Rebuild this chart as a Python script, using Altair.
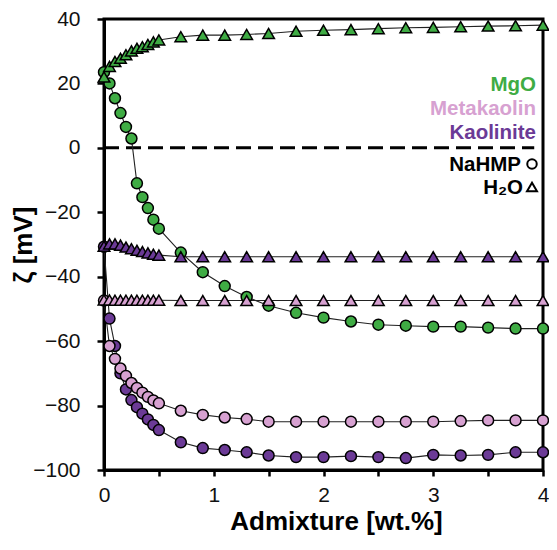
import altair as alt
import pandas as pd

# Admixture content [wt.%]
admixture = [0.0, 0.05, 0.1, 0.15, 0.2, 0.25, 0.3, 0.35, 0.4, 0.45, 0.5,
             0.7, 0.9, 1.1, 1.3, 1.5, 1.75, 2.0, 2.25, 2.5, 2.75, 3.0, 3.25, 3.5, 3.75, 4.0]

mgo_nahmp = [23.5, 20.0, 15.4, 10.8, 6.5, 2.9, -11.0, -15.3, -18.7, -22.3, -25.1,
             -32.5, -38.6, -42.9, -46.3, -49.0, -51.2, -52.7, -53.9, -54.9, -55.2,
             -55.5, -55.5, -55.8, -56.1, -56.1]
mgo_h2o = [22.0, 25.3, 26.8, 27.8, 28.9, 30.1, 30.9, 31.4, 32.1, 32.9, 33.5,
           34.5, 35.0, 35.0, 35.2, 35.5, 36.2, 36.5, 36.7, 37.0, 37.3,
           37.4, 37.6, 37.8, 37.9, 38.1]
meta_nahmp = [-47.4, -61.5, -65.5, -68.5, -70.8, -73.0, -74.5, -76.0, -77.3, -78.4, -79.3,
              -81.6, -82.9, -83.7, -84.2, -85.0, -85.0, -85.0, -85.0, -85.0, -85.0,
              -85.0, -84.8, -84.6, -84.6, -84.6]
meta_h2o = [-47.2, -47.2, -47.3, -47.3, -47.3, -47.3, -47.3, -47.3, -47.3, -47.3, -47.3,
            -47.4, -47.4, -47.4, -47.4, -47.4, -47.4, -47.4, -47.4, -47.4, -47.4,
            -47.4, -47.4, -47.4, -47.4, -47.4]
kaol_nahmp = [-30.7, -53.0, -61.5, -70.0, -75.0, -78.3, -80.5, -82.5, -84.3, -86.0, -87.6,
              -91.4, -93.2, -93.8, -94.5, -95.5, -96.0, -96.0, -95.7, -96.0, -96.3,
              -95.3, -95.5, -95.3, -94.5, -94.5]
kaol_h2o = [-30.5, -29.8, -29.8, -30.2, -30.8, -31.3, -31.8, -32.2, -32.6, -33.0, -33.3,
            -33.8, -33.8, -33.8, -33.8, -33.8, -33.8, -33.8, -33.8, -33.8, -33.8,
            -33.8, -33.8, -33.8, -33.8, -33.8]

materials = ["Kaolinite", "Metakaolin", "MgO"]
colors = ["#6b3a96", "#d7a1d1", "#3fac44"]
media = ["NaHMP", "H2O"]

series = {
    ("Kaolinite", "NaHMP"): kaol_nahmp,
    ("Metakaolin", "NaHMP"): meta_nahmp,
    ("MgO", "NaHMP"): mgo_nahmp,
    ("Kaolinite", "H2O"): kaol_h2o,
    ("Metakaolin", "H2O"): meta_h2o,
    ("MgO", "H2O"): mgo_h2o,
}

rows = []
order = 0
for (mat, med), vals in series.items():
    for x, v in zip(admixture, vals):
        rows.append({"x": x, "zeta": v, "material": mat, "medium": med,
                     "series": mat + "-" + med, "order": order})
        order += 1
df = pd.DataFrame(rows)

FONT = "Liberation Sans"
W, H = 439, 451

xenc = alt.X("x:Q", scale=alt.Scale(domain=[0, 4], nice=False),
             axis=alt.Axis(values=[0, 0.5, 1, 1.5, 2, 2.5, 3, 3.5, 4],
                           labelExpr="datum.value % 1 == 0 ? format(datum.value, 'd') : ''",
                           title="Admixture [wt.%]", tickSize=6, tickWidth=2.5,
                           labelPadding=8, titlePadding=3, labelFlush=False,
                           titleX=232, titleFontSize=26))
yenc = alt.Y("zeta:Q", scale=alt.Scale(domain=[-100, 40], nice=False),
             axis=alt.Axis(values=[-100, -80, -60, -40, -20, 0, 20, 40],
                           title="ζ [mV]", tickSize=7, tickWidth=2.5,
                           labelPadding=17, titlePadding=-4, titleFontSize=26))
cscale = alt.Color("material:N", scale=alt.Scale(domain=materials, range=colors), legend=None)

base = alt.Chart(df)

lines = base.mark_line(color="#222222", strokeWidth=1.1).encode(
    x=xenc, y=yenc, detail="series:N", order="order:Q")

zero_df = pd.DataFrame({"x": [0.0], "x2": [3.92], "zeta": [0.0]})
zero_line = alt.Chart(zero_df).mark_rule(color="black", strokeWidth=3, strokeDash=[15, 7]).encode(
    x="x:Q", x2="x2:Q", y="zeta:Q")

circles = base.transform_filter(alt.datum.medium == "NaHMP").mark_point(
    shape="circle", filled=True, size=120, stroke="black", strokeWidth=1.5, opacity=1).encode(
    x="x:Q", y="zeta:Q", fill=cscale, order="order:Q")

triangles = base.transform_filter(alt.datum.medium == "H2O").mark_point(
    shape="triangle-up", filled=True, size=135, stroke="black", strokeWidth=1.5, opacity=1).encode(
    x="x:Q", y="zeta:Q", fill=cscale, order="order:Q")

def label(text, x, y, color):
    return alt.Chart(pd.DataFrame({"t": [text]})).mark_text(
        align="right", baseline="alphabetic", font=FONT, fontSize=20.5, fontWeight="bold",
        color=color).encode(text="t:N", x=alt.value(x), y=alt.value(y))

RX = W - 7
labels = [
    label("MgO", RX, 72, colors[2]),
    label("Metakaolin", RX, 96, colors[1]),
    label("Kaolinite", RX, 120, colors[0]),
    label("NaHMP", RX - 15, 152, "black"),
    label("H₂O", RX - 13, 175, "black"),
]

sym_df = pd.DataFrame({"d": [0]})
sym_circle = alt.Chart(sym_df).mark_point(shape="circle", size=90, filled=False,
                                          stroke="black", strokeWidth=2, opacity=1).encode(
    x=alt.value(RX - 4), y=alt.value(145))
sym_tri = alt.Chart(sym_df).mark_point(shape="triangle-up", size=100, filled=False,
                                       stroke="black", strokeWidth=2, opacity=1).encode(
    x=alt.value(RX - 4), y=alt.value(168))

chart = alt.layer(zero_line, lines, circles, triangles, *labels, sym_circle, sym_tri).properties(
    width=W, height=H,
    autosize=alt.AutoSizeParams(type="none"),
    padding={"left": 96, "top": 11, "right": 6, "bottom": 70},
).configure_view(
    stroke="black", strokeWidth=3
).configure_axis(
    domainColor="black", domainWidth=3, tickColor="black", grid=False,
    labelFont=FONT, labelFontSize=21, labelColor="#111111",
    titleFont=FONT, titleFontWeight="bold", titleColor="black",
)

chart.save("out.html", embed_options={"renderer": "svg", "actions": False})
